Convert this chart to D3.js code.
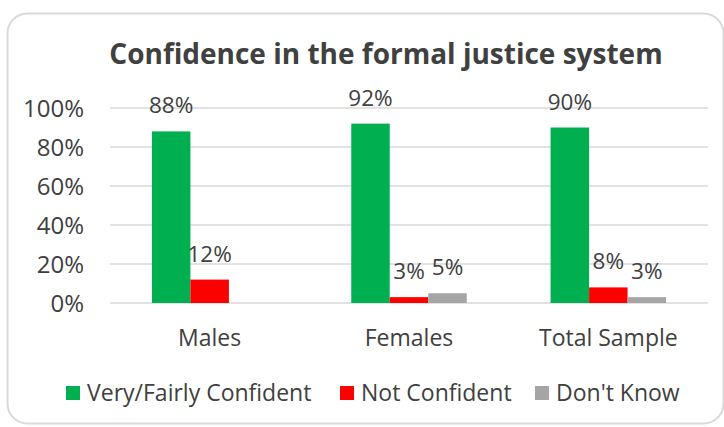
<!DOCTYPE html>
<html>
<head>
<meta charset="utf-8">
<script src="https://cdn.jsdelivr.net/npm/d3@7"></script>
<style>
  body { margin: 0; background: #fff; }
  text { font-family: "Open Sans", sans-serif; fill: #404040; }
</style>
</head>
<body>
<div id="chart"></div>
<script>
// Chart data
var categories = ["Males", "Females", "Total Sample"];
var seriesNames = ["Very/Fairly Confident", "Not Confident", "Don't Know"];
var confident    = [0.88, 0.92, 0.90];
var notConfident = [0.12, 0.03, 0.08];
var dontKnow     = [null, 0.05, 0.03];
var yTicks = [0, 0.2, 0.4, 0.6, 0.8, 1.0];

var colors = ["#00B050", "#FF0000", "#A5A5A5"];
var seriesValues = [confident, notConfident, dontKnow];

var width = 724, height = 427;

var svg = d3.select("#chart").append("svg")
    .attr("width", width)
    .attr("height", height);

// outer frame
svg.append("rect")
    .attr("x", 7.5).attr("y", 13.5)
    .attr("width", 716).attr("height", 410)
    .attr("rx", 20).attr("ry", 20)
    .attr("fill", "#fff")
    .attr("stroke", "#D9D9D9")
    .attr("stroke-width", 2);

// title
svg.append("text")
    .attr("x", 386).attr("y", 64)
    .attr("text-anchor", "middle")
    .attr("font-size", "28px")
    .attr("font-weight", "bold")
    .text("Confidence in the formal justice system");

var x = d3.scaleBand()
    .domain(categories)
    .range([110, 708]);

var xInner = d3.scaleBand()
    .domain(d3.range(seriesNames.length))
    .range([0, 115.5]);

var y = d3.scaleLinear()
    .domain([0, 1])
    .range([303, 108]);

// gridlines
svg.append("g")
    .selectAll("line")
    .data(yTicks)
    .enter().append("line")
    .attr("x1", 110).attr("x2", 708)
    .attr("y1", d => y(d)).attr("y2", d => y(d))
    .attr("stroke", "#D9D9D9")
    .attr("stroke-width", 1.5);

// y axis labels
var yAxis = d3.axisLeft(y)
    .tickValues(yTicks)
    .tickFormat(d3.format(".0%"))
    .tickSize(0)
    .tickPadding(0);

var yg = svg.append("g")
    .attr("transform", "translate(84,0)")
    .call(yAxis);
yg.select(".domain").remove();
yg.selectAll("text")
    .attr("font-size", "24px")
    .attr("font-family", "'Open Sans', sans-serif")
    .attr("fill", "#404040")
    .attr("dy", "0.35em");

// x axis labels
var xAxis = d3.axisBottom(x).tickSize(0).tickPadding(0);
var xg = svg.append("g")
    .attr("transform", "translate(0,338)")
    .call(xAxis);
xg.select(".domain").remove();
xg.selectAll("text")
    .attr("font-size", "23px")
    .attr("font-family", "'Open Sans', sans-serif")
    .attr("fill", "#404040")
    .attr("dy", "0.35em");

// bars
var groups = svg.append("g")
    .selectAll("g")
    .data(categories)
    .enter().append("g")
    .attr("transform", d => "translate(" + (x(d) + (x.bandwidth() - xInner.range()[1]) / 2) + ",0)");

groups.each(function(cat, ci) {
    var g = d3.select(this);
    seriesValues.forEach(function(vals, si) {
        var v = vals[ci];
        if (v == null) return;
        g.append("rect")
            .attr("x", xInner(si))
            .attr("y", y(v))
            .attr("width", xInner.bandwidth())
            .attr("height", y(0) - y(v))
            .attr("fill", colors[si]);
        g.append("text")
            .attr("x", xInner(si) + xInner.bandwidth() / 2)
            .attr("y", y(v) - 18)
            .attr("text-anchor", "middle")
            .attr("font-size", "22.5px")
            .text(d3.format(".0%")(v));
    });
});

// legend
var legendX = [66, 340, 535];
var legend = svg.append("g")
    .selectAll("g")
    .data(seriesNames)
    .enter().append("g")
    .attr("transform", (d, i) => "translate(" + legendX[i] + ",393)");

legend.append("rect")
    .attr("x", 0).attr("y", -7)
    .attr("width", 14).attr("height", 14)
    .attr("fill", (d, i) => colors[i]);

legend.append("text")
    .attr("x", 21)
    .attr("dy", "0.35em")
    .attr("font-size", "23px")
    .text(d => d);
</script>
</body>
</html>
